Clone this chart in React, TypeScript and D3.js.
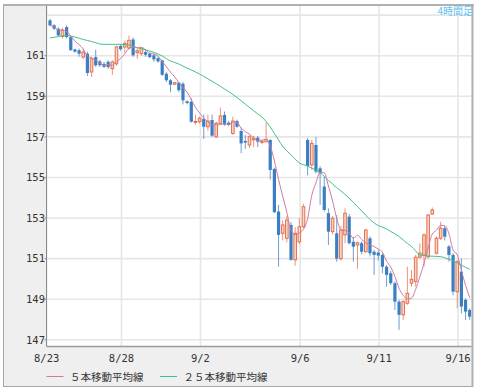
import React from 'react';
import * as d3 from 'd3';

// 4時間足ローソク足 (始値・高値・安値・終値)
const opens = [
  162.74, 162.50, 162.33, 161.95, 162.41, 161.92, 161.31, 161.27, 160.93, 161.10,
  160.20, 160.93, 160.72, 160.60, 160.70, 160.36, 160.60, 161.48, 161.43, 161.38,
  161.80, 161.15, 161.10, 161.18, 161.10, 161.02, 160.88, 160.77, 160.11, 159.79,
  159.60, 159.67, 159.62, 158.75, 158.73, 157.73, 157.75, 157.88, 157.50, 157.83,
  157.00, 157.67, 158.08, 157.70, 157.17, 157.78, 157.29, 156.80, 156.60, 156.85,
  156.96, 156.73, 156.76, 156.85, 155.42, 153.32, 152.25, 152.00, 152.66, 150.94,
  151.83, 152.57, 156.85, 155.62, 156.60, 155.45, 154.55, 153.24, 152.33, 152.25,
  151.00, 152.17, 153.07, 151.83, 151.67, 151.76, 151.34, 152.00, 151.34, 151.30,
  151.18, 150.60, 150.28, 149.79, 148.88, 148.23, 148.80, 149.79, 149.87, 151.07,
  151.18, 151.10, 153.20, 151.27, 152.00, 152.50, 151.60, 151.18, 149.37, 150.36,
  148.97, 148.47,
];
const highs = [
  162.82, 162.56, 162.40, 162.38, 162.50, 161.96, 161.35, 161.35, 161.35, 161.20,
  160.95, 161.30, 160.80, 160.70, 160.78, 160.78, 161.50, 161.55, 161.75, 162.00,
  161.90, 161.35, 161.40, 161.30, 161.15, 161.10, 160.95, 160.80, 160.20, 159.85,
  159.70, 159.72, 159.70, 158.80, 158.90, 158.10, 158.00, 158.10, 158.10, 158.10,
  157.75, 158.45, 158.25, 157.80, 158.00, 157.85, 157.45, 157.10, 157.10, 157.05,
  157.05, 156.85, 157.72, 156.88, 155.48, 153.65, 152.90, 153.10, 152.80, 152.55,
  153.00, 153.70, 156.95, 156.85, 157.00, 155.55, 155.04, 153.48, 153.10, 153.15,
  152.60, 153.48, 153.20, 152.08, 151.84, 151.85, 152.47, 152.10, 151.43, 151.40,
  151.27, 150.69, 150.40, 149.87, 148.97, 148.97, 150.60, 150.44, 151.18, 151.76,
  152.25, 153.20, 153.52, 152.10, 152.82, 152.60, 151.67, 151.27, 150.94, 151.00,
  149.05, 148.55,
];
const lows = [
  162.45, 162.28, 161.95, 161.85, 161.85, 161.25, 161.15, 160.95, 160.85, 160.00,
  159.95, 160.45, 160.45, 160.40, 160.35, 160.05, 160.50, 161.25, 161.15, 161.30,
  160.95, 160.85, 161.00, 160.95, 160.88, 160.70, 160.65, 160.00, 159.70, 159.20,
  159.55, 159.20, 158.60, 158.60, 157.70, 157.60, 157.65, 156.90, 157.30, 157.00,
  156.95, 157.60, 157.55, 157.55, 157.10, 157.45, 156.20, 156.40, 156.45, 156.50,
  156.50, 156.65, 156.73, 154.90, 153.25, 150.60, 151.90, 151.80, 150.90, 150.65,
  151.70, 152.50, 155.10, 155.37, 155.20, 153.65, 153.32, 151.67, 152.20, 150.85,
  150.90, 151.76, 151.70, 150.85, 150.50, 151.20, 151.30, 151.10, 150.20, 150.90,
  150.28, 149.62, 149.70, 148.47, 147.49, 147.98, 148.72, 149.62, 149.62, 151.00,
  150.60, 151.00, 153.15, 151.20, 151.92, 151.90, 150.85, 149.20, 148.55, 148.30,
  147.98, 147.98,
];
const closes = [
  162.50, 162.33, 162.00, 162.25, 161.92, 161.27, 161.20, 161.10, 161.18, 160.15,
  160.85, 160.53, 160.53, 160.45, 160.44, 160.69, 161.43, 161.32, 161.60, 161.76,
  161.02, 161.25, 161.38, 161.05, 160.93, 160.82, 160.72, 160.06, 159.79, 159.57,
  159.67, 159.30, 158.80, 158.67, 157.75, 157.76, 157.92, 157.50, 157.78, 157.06,
  157.67, 158.03, 157.62, 157.60, 157.78, 157.50, 156.68, 156.72, 157.01, 156.93,
  156.76, 156.78, 156.88, 155.37, 153.29, 152.17, 152.66, 152.90, 150.94, 152.25,
  152.57, 153.56, 155.57, 156.68, 155.29, 155.20, 153.40, 152.33, 152.99, 151.00,
  152.41, 153.24, 151.76, 151.59, 151.78, 151.34, 152.41, 151.26, 151.18, 151.15,
  150.60, 150.20, 149.79, 148.88, 148.23, 148.88, 149.29, 149.98, 151.07, 151.27,
  152.17, 153.15, 153.40, 152.00, 152.50, 152.08, 151.18, 149.37, 150.85, 148.64,
  148.39, 148.14,
];

// ２５本移動平均線 (表示範囲より前のデータも含むので画像から読み取り)
const ma25 = [
  161.87, 161.91, 161.94, 161.98, 161.99, 161.97, 161.92, 161.86, 161.80, 161.75,
  161.70, 161.64, 161.58, 161.56, 161.56, 161.56, 161.56, 161.56, 161.55, 161.53,
  161.48, 161.39, 161.34, 161.29, 161.23, 161.17, 161.08, 160.99, 160.86, 160.74,
  160.67, 160.59, 160.49, 160.39, 160.30, 160.20, 160.10, 159.98, 159.86, 159.74,
  159.62, 159.49, 159.36, 159.23, 159.09, 158.94, 158.78, 158.62, 158.45, 158.29,
  158.13, 157.98, 157.76, 157.49, 157.17, 156.85, 156.53, 156.31, 156.11, 155.91,
  155.71, 155.63, 155.56, 155.46, 155.36, 155.25, 155.05, 154.85, 154.68, 154.50,
  154.34, 154.16, 153.98, 153.77, 153.57, 153.36, 153.14, 152.93, 152.76, 152.63,
  152.55, 152.46, 152.34, 152.22, 152.09, 151.92, 151.75, 151.60, 151.38, 151.18,
  151.16, 151.13, 151.12, 151.11, 151.10, 151.04, 150.97, 150.89, 150.79, 150.68,
  150.57, 150.48,
];

const dayLabels = ['8/23', '8/28', '9/2', '9/6', '9/11', '9/16'];
const dayStarts = [0, 18, 37, 61, 80, 99];
const priceTicks = [147, 149, 151, 153, 155, 157, 159, 161];
const gridPrices = [147, 149, 151, 153, 155, 157, 159, 161, 163];
const legendLabels = ['５本移動平均線', '２５本移動平均線'];
const periodLabel = '4時間足';

const W = 478;
const H = 392;
const plot = { left: 46.5, right: 471.5, top: 6, bottom: 346.5 };

const UP = '#e4704e';
const UP_FILL = '#f9d6ca';
const DOWN = '#3b7fc2';
const MA5_COLOR = '#cf7aa2';
const MA25_COLOR = '#3fc287';
const monoFont = '"DejaVu Sans Mono", monospace';
const jpFont = '"Noto Sans CJK JP", sans-serif';

const App = () => {
  const x = d3.scaleLinear().domain([0, closes.length - 1]).range([50, 469.7]);
  const y = d3.scaleLinear().domain([146.67, 163.45]).range([plot.bottom, plot.top]);
  const step = x(1) - x(0);

  // ５本移動平均 (先頭は取れる分だけで平均)
  const ma5 = closes.map((_, i) => d3.mean(closes.slice(Math.max(0, i - 4), i + 1)) as number);

  const line = d3.line<number>()
    .x((_, i) => x(i))
    .y(d => y(d))
    .curve(d3.curveMonotoneX);

  const tickX = (i: number) => x(i - 0.8);

  return (
    <>
      <style>{'body{margin:0}'}</style>
      <svg width={W} height={H} style={{ display: 'block' }}>
        <defs>
          <clipPath id="plotClip">
            <rect x={plot.left} y={plot.top} width={plot.right - plot.left} height={plot.bottom - plot.top} />
          </clipPath>
        </defs>
        <rect x={0} y={0} width={W} height={H} fill="#fff" />
        {/* 外枠 */}
        <rect x={3.5} y={5} width={469} height={381.5} fill="#efefef" stroke="#a6a6a6" strokeWidth={1} />
        <rect x={plot.left} y={plot.top} width={plot.right - plot.left} height={plot.bottom - plot.top} fill="#fff" />

        {/* グリッド */}
        {gridPrices.map(p => (
          <line key={'h' + p} x1={plot.left} x2={plot.right} y1={y(p)} y2={y(p)} stroke="#e6e6e6" strokeWidth={1.6} />
        ))}
        {dayStarts.map(i => (
          <line key={'v' + i} x1={tickX(i)} x2={tickX(i)} y1={plot.top} y2={plot.bottom} stroke="#e6e6e6" strokeWidth={1.6} />
        ))}

        <g clipPath="url(#plotClip)">
          {closes.map((c, i) => {
            const o = opens[i];
            const up = c >= o;
            const cx = x(i);
            const top = y(Math.max(o, c));
            const h = Math.max(1, y(Math.min(o, c)) - top);
            return (
              <g key={i}>
                <line x1={cx} x2={cx} y1={y(highs[i])} y2={y(lows[i])} stroke={up ? UP : DOWN} strokeWidth={1} strokeOpacity={0.75} />
                {up ? (
                  <rect x={cx - 1.3} y={top} width={2.6} height={h} fill={UP_FILL} stroke={UP} strokeWidth={1} />
                ) : (
                  <rect x={cx - 1.6} y={top} width={3.2} height={h} fill={DOWN} />
                )}
              </g>
            );
          })}
          <path d={line(ma25) || ''} fill="none" stroke={MA25_COLOR} strokeWidth={1} />
          <path d={line(ma5) || ''} fill="none" stroke={MA5_COLOR} strokeWidth={1} />
        </g>

        {/* 軸 */}
        <line x1={plot.left} x2={plot.left} y1={plot.top} y2={plot.bottom} stroke="#8a8a8a" strokeWidth={1} />
        <line x1={plot.left} x2={plot.right} y1={plot.bottom} y2={plot.bottom} stroke="#9a9a9a" strokeWidth={1.5} />
        {priceTicks.map(p => (
          <g key={'yl' + p}>
            <line x1={plot.left - 2} x2={plot.left} y1={y(p)} y2={y(p)} stroke="#8a8a8a" />
            <text x={plot.left - 1.5} y={y(p)} dy="0.36em" textAnchor="end" fontFamily={monoFont} fontSize={10.5} fill="#333">{p}</text>
          </g>
        ))}
        {dayStarts.map((i, k) => (
          <text key={'xl' + i} x={tickX(i)} y={361.5} textAnchor="middle" fontFamily={monoFont} fontSize={10.5} fill="#333">
            {dayLabels[k]}
          </text>
        ))}

        {/* 凡例 */}
        <line x1={46.5} x2={63.5} y1={376.5} y2={376.5} stroke={MA5_COLOR} strokeWidth={1} />
        <text x={70} y={380.5} fontFamily={jpFont} fontSize={10.5} fill="#333">{legendLabels[0]}</text>
        <line x1={160} x2={177} y1={376.5} y2={376.5} stroke={MA25_COLOR} strokeWidth={1} />
        <text x={183.5} y={380.5} fontFamily={jpFont} fontSize={10.5} fill="#333">{legendLabels[1]}</text>

        <text x={473} y={15} textAnchor="end" fontFamily={jpFont} fontSize={10} fill="#5cc2f2">{periodLabel}</text>

        {/* 上・右の太い枠線 */}
        <line x1={3} x2={474} y1={5} y2={5} stroke="#b0b0b0" strokeWidth={2} />
        <line x1={472.5} x2={472.5} y1={4} y2={387} stroke="#b0b0b0" strokeWidth={2} />
      </svg>
    </>
  );
};

export default App;
